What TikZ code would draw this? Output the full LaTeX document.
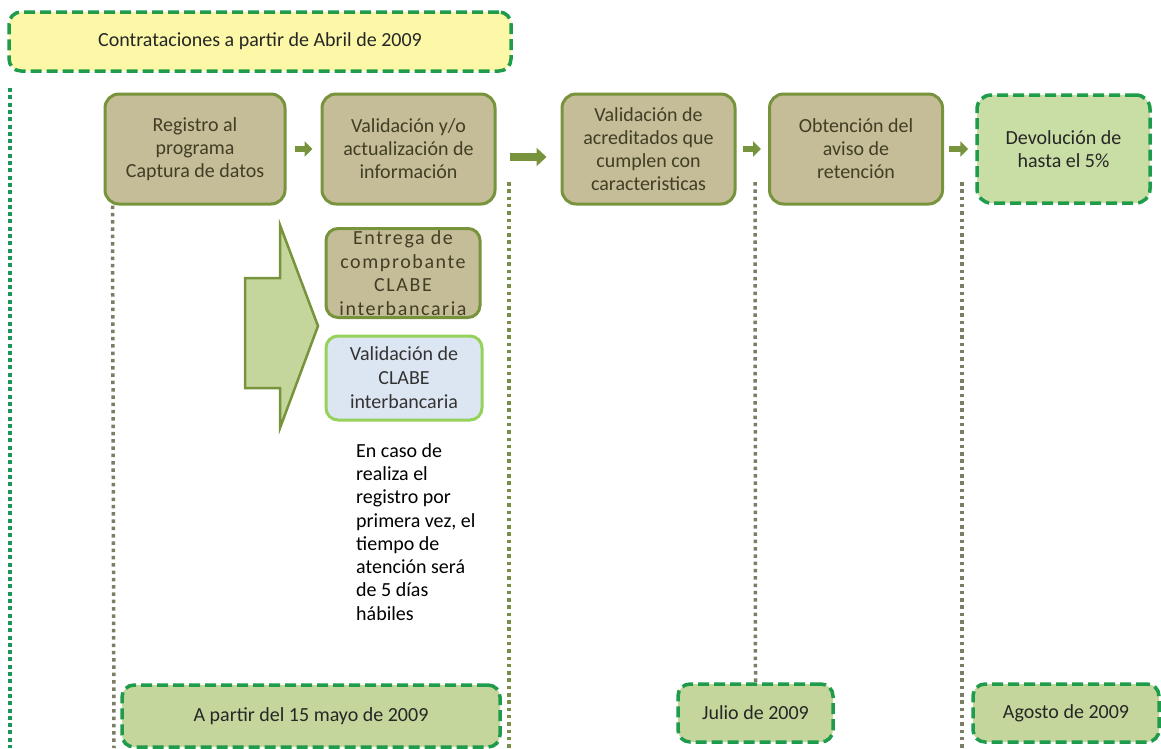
\documentclass[tikz,border=0pt]{standalone}
\usepackage{fontspec}
\setmainfont{Carlito}
\usetikzlibrary{arrows.meta}
\pgfdeclarelayer{bg}
\pgfsetlayers{bg,main}
\definecolor{tanfill}{RGB}{196,189,151}
\definecolor{olivec}{RGB}{119,147,60}
\definecolor{tantext}{RGB}{66,62,38}
\definecolor{dgreen}{RGB}{30,155,75}
\definecolor{lgreen}{RGB}{196,214,155}
\definecolor{lgreenb}{RGB}{200,222,165}
\definecolor{yel}{RGB}{252,248,168}
\definecolor{bluefill}{RGB}{220,230,242}
\definecolor{bluebord}{RGB}{150,210,90}
\definecolor{dotgray}{RGB}{125,125,102}
\definecolor{dotgreen}{RGB}{25,150,90}
\begin{document}
\begin{tikzpicture}[x=1pt,y=-1pt,
  txt/.style={font=\fontsize{20}{23}\selectfont},
  procbox/.style={txt, draw=olivec, line width=3pt, fill=tanfill, rounded corners=14pt,
    text=tantext, align=center, inner sep=0pt, minimum height=110pt},
  datebox/.style={txt, draw=dgreen, line width=3.5pt, dash pattern=on 11pt off 5pt,
    fill=lgreen, rounded corners=12pt, text=black!85, align=center, inner sep=0pt},
  steparrow/.style={draw=olivec, line width=6pt, -{Triangle[length=8pt,width=15pt]}},
  bigsteparrow/.style={draw=olivec, line width=8pt, -{Triangle[length=10pt,width=18pt]}},
  dotline/.style={draw=dotgray, line width=3.5pt, dash pattern=on 3.5pt off 3.8pt},
  greendot/.style={draw=dotgreen, line width=4pt, dash pattern=on 4pt off 3.3pt}
]
\useasboundingbox (0,0) rectangle (1161,748);

% top box
\node[datebox, fill=yel, minimum width=502pt, minimum height=59pt] (top) at (260,41.5)
  {Contrataciones a partir de Abril de 2009};

% process boxes
\node[procbox, minimum width=180pt] (b1) at (195,149) {Registro al\\programa\\Captura de datos};
\node[procbox, minimum width=173pt] (b2) at (408.5,149) {Validación y/o\\actualización de\\información};
\node[procbox, minimum width=173pt] (b3) at (648.5,149) {Validación de\\acreditados que\\cumplen con\\caracteristicas};
\node[procbox, minimum width=173pt] (b4) at (856,149) {Obtención del\\aviso de\\retención};
\node[datebox, fill=lgreenb, minimum width=173pt, minimum height=108pt, rounded corners=14pt] (b5) at (1063.5,149)
  {Devolución de\\hasta el 5\%};

% step arrows
\draw[steparrow, shorten <=8pt, shorten >=8pt] (b1.east) -- (b2.west);
\draw[bigsteparrow, shorten <=13pt, shorten >=14pt] ([yshift=-8pt]b2.east) -- ([yshift=-8pt]b3.west);
\draw[steparrow, shorten <=6pt, shorten >=7pt] (b3.east) -- (b4.west);
\draw[steparrow, shorten <=5pt, shorten >=7pt] (b4.east) -- (b5.west);

% bottom date boxes
\node[datebox, minimum width=378pt, minimum height=62pt] (d1) at (311,716) {A partir del 15 mayo de 2009};
\node[datebox, minimum width=155pt, minimum height=58pt] (d2) at (755.5,713) {Julio de 2009};
\node[datebox, minimum width=186pt, minimum height=58pt] (d3) at (1066,713) {Agosto de 2009};

% big block arrow
\draw[fill=lgreen, draw=olivec, line width=2.5pt, line join=miter]
  (245,278) -- (280,278) -- (280,225) -- (318,326) -- (280,428) -- (280,388) -- (245,388) -- cycle;

% side boxes
\node[procbox, minimum width=154pt, minimum height=89pt, rounded corners=12pt,
  font=\fontsize{20}{23.5}\selectfont\addfontfeatures{LetterSpace=8}] (e1) at (403,273)
  {Entrega de\\comprobante\\CLABE\\interbancaria};
\node[txt, draw=bluebord, line width=3pt, fill=bluefill, rounded corners=12pt, align=center,
  inner sep=0pt, minimum width=156pt, minimum height=84pt, text=black!80,
  font=\fontsize{20}{24}\selectfont] (e2) at (404,378)
  {Validación de\\CLABE\\interbancaria};

% note
\node[txt, font=\fontsize{20}{23.3}\selectfont, align=left, anchor=north west, inner sep=0pt] (note) at (356,443)
  {En caso de\\realiza el\\registro por\\primera vez, el\\tiempo de\\atención será\\de 5 días\\hábiles};

% timeline dotted lines, behind the boxes
\coordinate (gtop) at (10,88);
\coordinate (gbot) at (10,748);
\coordinate (l1b) at (114,748);
\coordinate (l2t) at (509,182);
\coordinate (l2b) at (509,748);
\coordinate (l3t) at (755,182);
\coordinate (l4t) at (962,182);
\coordinate (l4b) at (962,748);
\begin{pgfonlayer}{bg}
  \fill[white] (0,0) rectangle (1161,748);
  \draw[greendot] (gtop) -- (gbot);
  \draw[dotline] ([xshift=9pt]b1.south west) -- (l1b);
  \draw[dotline, draw=olivec!75!dotgray] (l2t) -- (l2b);
  \draw[dotline] (l3t) -- (d2.north);
  \draw[dotline] (l4t) -- (l4b);
\end{pgfonlayer}
\end{tikzpicture}
\end{document}
